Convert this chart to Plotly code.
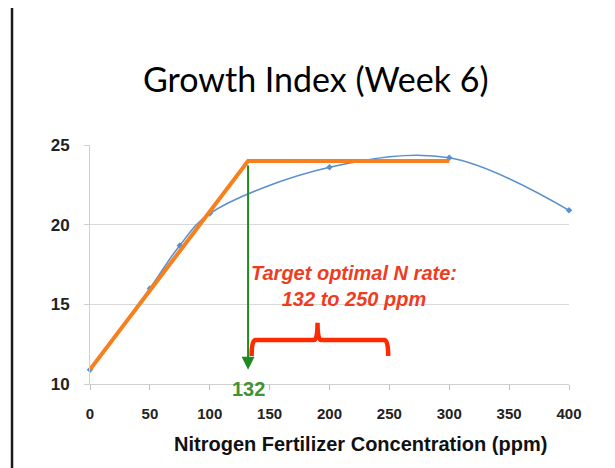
import plotly.graph_objects as go

# Data
n_rate = [0, 50, 75, 100, 200, 300, 400]
growth_index = [10.9, 16.0, 18.7, 20.7, 23.6, 24.2, 20.9]

fit_x = [0, 132, 300]
fit_y = [10.9, 24.0, 24.0]

optimal_n = 132
arrow_top = 23.8
arrow_bottom = 10.9

range_low, range_high = 132, 250
brace_x = [135, 138, 187, 190, 193, 246, 249]
brace_y = [11.76, 12.76, 12.76, 13.85, 12.76, 12.76, 11.76]

x_ticks = [0, 50, 100, 150, 200, 250, 300, 350, 400]
y_ticks = [10, 15, 20, 25]

fig = go.Figure()

fig.add_trace(go.Scatter(
    x=n_rate, y=growth_index, mode="lines+markers",
    line=dict(color="#5b8fcf", width=1.6, shape="spline", smoothing=1.0),
    marker=dict(symbol="diamond", size=5, color="#5b8fcf"),
    showlegend=False, cliponaxis=False,
))

fig.add_trace(go.Scatter(
    x=fit_x, y=fit_y, mode="lines",
    line=dict(color="#f7801e", width=4),
    showlegend=False, cliponaxis=False,
))

# brace path built from brace points
p = [(brace_x[i], brace_y[i]) for i in range(len(brace_x))]
path = (f"M {p[0][0]},{p[0][1]} Q {p[0][0]},{p[1][1]} {p[1][0]},{p[1][1]} "
        f"L {p[2][0]},{p[2][1]} Q {p[3][0]},{p[2][1]} {p[3][0]},{p[3][1]} "
        f"Q {p[3][0]},{p[4][1]} {p[4][0]},{p[4][1]} "
        f"L {p[5][0]},{p[5][1]} Q {p[6][0]},{p[5][1]} {p[6][0]},{p[6][1]}")
fig.add_shape(type="path", path=path, xref="x", yref="y",
              line=dict(color="#ff2a00", width=4.5))

# green arrow
fig.add_annotation(x=optimal_n, y=arrow_bottom, ax=optimal_n, ay=arrow_top,
                   xref="x", yref="y", axref="x", ayref="y",
                   showarrow=True, arrowhead=2, arrowsize=1.3, arrowwidth=2,
                   arrowcolor="#1f8a1f", text="")
fig.add_annotation(x=optimal_n, y=10, xref="x", yref="y", yshift=-5,
                   text="<b>132</b>", showarrow=False, yanchor="middle",
                   font=dict(family="Liberation Sans, Arial", size=20, color="#3f9430"))

fig.add_annotation(x=220.5, y=16.15, xref="x", yref="y",
                   text="<b><i>Target optimal N rate:<br>132 to 250 ppm</i></b>",
                   showarrow=False, align="center", yanchor="middle",
                   font=dict(family="Liberation Sans, Arial", size=20, color="#f03c1e"))

# x-axis title (offset to the right as in the original)
fig.add_annotation(x=0.5637, y=-0.251, xref="paper", yref="paper",
                   text="Nitrogen Fertilizer Concentration (ppm)",
                   showarrow=False, xanchor="center", yanchor="middle",
                   font=dict(family="Liberation Sans, Arial", size=20,
                             color="#111111", weight="bold"))

# left frame line
fig.add_shape(type="line", xref="paper", yref="paper",
              x0=-0.1628, x1=-0.1628, y0=-1, y1=2,
              line=dict(color="#1a1a1a", width=2.5))

tick_font_x = dict(family="Liberation Sans, Arial", size=15, color="#222", weight="bold")
tick_font_y = dict(family="Liberation Sans, Arial", size=17, color="#222", weight="bold")

fig.update_layout(
    width=607, height=460,
    margin=dict(l=82, r=46, t=137, b=84),
    paper_bgcolor="white", plot_bgcolor="white",
    title=dict(text="Growth Index (Week 6)", x=0.507, xanchor="center",
               y=1 - 72.5 / 460, yanchor="middle", yref="container",
               font=dict(family="Lato, Open Sans", size=34, color="#000000")),
    xaxis=dict(range=[0, 400], tickvals=x_ticks, ticks="outside", ticklen=5,
               tickcolor="#bfbfbf", showline=True, linecolor="#d0d0d0",
               showgrid=False, zeroline=False, automargin=False,
               tickfont=tick_font_x, ticklabelstandoff=11),
    yaxis=dict(range=[10, 25], tickvals=y_ticks, ticks="outside", ticklen=5,
               tickcolor="#d0d0d0", showline=True, linecolor="#d0d0d0",
               showgrid=True, gridcolor="#d9d9d9", zeroline=False, automargin=False,
               tickfont=tick_font_y, ticklabelstandoff=11),
)

fig.write_html("out.html")
